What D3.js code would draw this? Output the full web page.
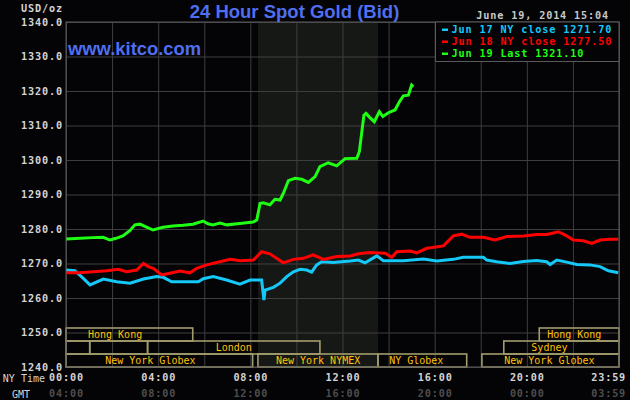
<!DOCTYPE html>
<html>
<head>
<meta charset="utf-8">
<script src="https://cdn.jsdelivr.net/npm/d3@7"></script>
<style>
body { margin: 0; background: #000; }
svg { display: block; }
</style>
</head>
<body>
<div id="chart"></div>
<script>
// Jun 19 (green) - last trades, hours are NY time
var jun19Hours = [0, 0.61, 1.17, 1.61, 1.91, 2.17, 2.47, 2.78, 2.99, 3.21, 3.47, 3.78, 4.21, 4.64, 5.08, 5.51,
    5.95, 6.16, 6.38, 6.68, 6.99, 7.55, 8.12, 8.28, 8.42, 8.56, 8.85, 9.07, 9.29, 9.43, 9.65, 9.94, 10.23,
    10.52, 10.81, 11.02, 11.38, 11.75, 12.11, 12.62, 12.73, 12.83, 12.93, 13.02, 13.19, 13.38, 13.60, 13.75,
    13.99, 14.28, 14.47, 14.64, 14.86, 15.00, 15.07];
var jun19Values = [1277.1, 1277.3, 1277.5, 1277.6, 1276.8, 1277.3, 1278.0, 1279.6, 1281.2, 1281.4, 1280.6,
    1279.7, 1280.5, 1280.9, 1281.1, 1281.4, 1282.3, 1281.5, 1281.2, 1281.7, 1281.2, 1281.6, 1282.0, 1282.6,
    1287.4, 1287.6, 1287.0, 1288.6, 1288.4, 1290.3, 1294.0, 1294.7, 1294.4, 1293.5, 1295.2, 1298.1, 1299.2,
    1298.3, 1300.4, 1300.5, 1302.4, 1307.7, 1313.0, 1313.5, 1312.3, 1311.1, 1314.0, 1312.6, 1313.7, 1314.5,
    1316.9, 1318.6, 1318.8, 1321.7, 1321.2];

// Jun 17 (blue)
var jun17Hours = [0, 0.39, 0.75, 1.04, 1.62, 2.20, 2.78, 3.36, 3.94, 4.22, 4.59, 5.24, 5.74, 5.96, 6.39, 6.97,
    7.55, 7.99, 8.49, 8.59, 8.64, 9.00, 9.29, 9.58, 9.87, 10.16, 10.45, 10.66, 10.88, 11.10, 11.60, 12.33,
    12.69, 12.98, 13.49, 13.77, 14.64, 15.51, 16.09, 16.81, 17.24, 18.11, 18.26, 18.69, 19.27, 19.85, 20.43,
    20.86, 21.01, 21.30, 21.73, 22.17, 22.74, 23.18, 23.54, 23.97];
var jun17Values = [1268.1, 1267.9, 1265.7, 1263.8, 1265.5, 1264.7, 1264.3, 1265.5, 1266.2, 1266.0, 1264.7,
    1264.7, 1264.7, 1265.6, 1266.2, 1265.2, 1264.0, 1265.2, 1265.2, 1259.4, 1262.3, 1263.1, 1264.3, 1266.2,
    1267.6, 1268.3, 1268.1, 1267.5, 1269.6, 1270.5, 1270.3, 1270.7, 1271.0, 1270.2, 1272.2, 1270.8, 1270.8,
    1271.3, 1270.7, 1271.2, 1271.8, 1271.8, 1271.0, 1270.5, 1270.0, 1270.6, 1270.9, 1270.5, 1269.7, 1271.0,
    1270.4, 1269.7, 1269.6, 1269.1, 1267.9, 1267.3];

// Jun 18 (red)
var jun18Hours = [0, 0.61, 1.18, 1.77, 2.27, 2.63, 3.07, 3.36, 3.57, 3.79, 4.15, 4.51, 4.95, 5.38, 5.67, 6.11,
    6.68, 7.12, 7.55, 8.13, 8.49, 8.85, 9.14, 9.43, 9.87, 10.30, 10.73, 11.17, 11.75, 12.33, 12.69, 13.19,
    13.85, 14.14, 14.35, 14.93, 15.22, 15.66, 16.38, 16.81, 17.17, 17.53, 18.11, 18.62, 19.13, 19.85, 20.43,
    20.86, 21.37, 21.73, 22.02, 22.45, 22.82, 23.18, 23.61, 23.97];
var jun18Values = [1267.3, 1267.3, 1267.6, 1267.9, 1268.3, 1267.6, 1268.1, 1270.0, 1269.1, 1268.6, 1266.7,
    1267.2, 1267.8, 1267.3, 1268.6, 1269.6, 1270.5, 1271.2, 1270.8, 1271.0, 1273.4, 1272.8, 1271.5, 1270.2,
    1271.2, 1271.5, 1272.5, 1271.2, 1272.0, 1272.2, 1272.8, 1273.2, 1273.0, 1271.8, 1273.4, 1273.6, 1273.1,
    1274.4, 1275.1, 1278.0, 1278.5, 1277.6, 1277.6, 1276.8, 1277.8, 1278.0, 1278.4, 1278.4, 1279.2, 1278.0,
    1276.8, 1276.6, 1275.8, 1276.8, 1277.0, 1277.0];

var legendLabels = ["Jun 17 NY close 1271.70", "Jun 18 NY close 1277.50", "Jun 19 Last 1321.10"];
var seriesColors = ["#14c8f8", "#ff0000", "#1eff14"];

var yTicks = [1240, 1250, 1260, 1270, 1280, 1290, 1300, 1310, 1320, 1330, 1340];
var xTickHours = [0, 4, 8, 12, 16, 20, 23.983];
var nyTimeLabels = ["00:00", "04:00", "08:00", "12:00", "16:00", "20:00", "23:59"];
var gmtLabels = ["04:00", "08:00", "12:00", "16:00", "20:00", "00:00", "03:59"];

// market sessions: name, row, open hour, close hour, label hour
var sessions = [
    ["Hong Kong", 0, -1.25, 5.5, 2.13],
    ["Hong Kong", 0, 20.54, 24, 22.06],
    ["", 1, -1, 1.03, -1],
    ["", 1, 1.03, 3.54, -1],
    ["London", 1, 3.54, 11.02, 7.28],
    ["Sydney", 1, 19.0, 24, 20.98],
    ["New York Globex", 2, -0.8, 8.1, 3.66],
    ["New York NYMEX", 2, 8.33, 13.54, 10.94],
    ["NY Globex", 2, 13.54, 17.39, 15.2],
    ["New York Globex", 2, 18.05, 24, 20.98]
];

// SVG drawing area
var width = 630;
var height = 400;
var margin = {top: 22, right: 11, bottom: 33, left: 66};

var svg = d3.select("#chart").append("svg")
    .attr("width", width)
    .attr("height", height);

svg.append("rect")
    .attr("width", width)
    .attr("height", height)
    .attr("fill", "#040306");

//Scales
var xScale = d3.scaleLinear()
    .domain([0, 24])
    .range([margin.left, width - margin.right]);
var yScale = d3.scaleLinear()
    .domain([1240, 1340])
    .range([height - margin.bottom, margin.top]);

var mono = "'DejaVu Sans Mono', monospace";

// small pixel-ish mono text used all over the chart
function monoText(sel, bold) {
    sel.style("font-family", mono)
        .style("font-size", "10.2px")
        .style("letter-spacing", "0.85px")
        .style("font-weight", bold ? "bold" : "normal");
}

// pit session shading (NYMEX hours)
var nymex = sessions[7];
svg.append("rect")
    .attr("x", xScale(nymex[2]))
    .attr("y", margin.top)
    .attr("width", xScale(nymex[3]) - xScale(nymex[2]))
    .attr("height", yScale(1240) - yScale(1340))
    .attr("fill", "#161816");

// gridlines
svg.append("g")
    .attr("transform", "translate(0," + margin.top + ")")
    .call(d3.axisTop(xScale).tickValues(d3.range(0, 25, 2)).tickSize(-(yScale(1240) - yScale(1340))).tickFormat(""))
    .call(function(g) {
        g.select(".domain").remove();
        g.selectAll("line").attr("stroke", "#3e3e3e");
    });
svg.append("g")
    .attr("transform", "translate(" + margin.left + ",0)")
    .call(d3.axisLeft(yScale).tickValues(yTicks).tickSize(-(xScale(24) - xScale(0))).tickFormat(""))
    .call(function(g) {
        g.select(".domain").remove();
        g.selectAll("line").attr("stroke", "#3e3e3e");
    });

// market session boxes
var rowH = 13;
var rowTop = yScale(1240) - 3 * rowH;

var sessG = svg.append("g");
sessions.forEach(function(s) {
    var x0 = xScale(Math.max(0, s[2]));
    var x1 = xScale(Math.min(24, s[3]));
    var yTop = rowTop + s[1] * rowH;
    sessG.append("rect")
        .attr("x", x0)
        .attr("y", yTop)
        .attr("width", x1 - x0)
        .attr("height", rowH)
        .attr("fill", "none")
        .attr("stroke", "#a29d6c")
        .attr("stroke-width", 1.6);
    if (s[0] !== "") {
        sessG.append("text")
            .attr("x", xScale(s[4]))
            .attr("y", yTop + rowH / 2)
            .attr("dy", "0.36em")
            .attr("text-anchor", "middle")
            .style("font-family", mono)
            .style("font-size", "10px")
            .attr("fill", "#ffc10a")
            .text(s[0]);
    }
});

// price lines
var line = d3.line()
    .x(function(d) { return xScale(d[0]); })
    .y(function(d) { return yScale(d[1]); });

var seriesData = [
    d3.zip(jun17Hours, jun17Values),
    d3.zip(jun18Hours, jun18Values),
    d3.zip(jun19Hours, jun19Values)
];

svg.selectAll("path.price")
    .data(seriesData)
    .enter()
    .append("path")
    .attr("class", "price")
    .attr("d", line)
    .attr("fill", "none")
    .attr("stroke", function(d, i) { return seriesColors[i]; })
    .attr("stroke-width", 3);

// plot border
svg.append("rect")
    .attr("x", xScale(0))
    .attr("y", yScale(1340))
    .attr("width", xScale(24) - xScale(0))
    .attr("height", yScale(1240) - yScale(1340))
    .attr("fill", "none")
    .attr("stroke", "#5a5a5a");

// y axis labels
var gy = svg.append("g")
    .attr("transform", "translate(" + margin.left + ",0)")
    .call(d3.axisLeft(yScale).tickValues(yTicks).tickSize(0).tickPadding(3).tickFormat(d3.format(".1f")));
gy.select(".domain").remove();
gy.selectAll("text")
    .call(monoText, true)
    .attr("fill", "#d4d4d4");

svg.append("text")
    .attr("x", margin.left - 3)
    .attr("y", 8)
    .attr("dy", "0.36em")
    .attr("text-anchor", "end")
    .call(monoText, true)
    .attr("fill", "#d4d4d4")
    .text("USD/oz");

// x axis labels (NY time and GMT)
function styleTimeAxis(g, color) {
    g.select(".domain").remove();
    g.selectAll("text")
        .call(monoText, true)
        .attr("fill", color);
    // last label is pushed inside the window
    g.selectAll(".tick:last-of-type text")
        .attr("text-anchor", "end")
        .attr("dx", 7);
}

var gx = svg.append("g")
    .attr("transform", "translate(0," + (yScale(1240) + 7) + ")")
    .call(d3.axisBottom(xScale).tickValues(xTickHours).tickSize(0).tickPadding(0)
        .tickFormat(function(d, i) { return nyTimeLabels[i]; }));
styleTimeAxis(gx, "#d4d4d4");

var gg = svg.append("g")
    .attr("transform", "translate(0," + (yScale(1240) + 23) + ")")
    .call(d3.axisBottom(xScale).tickValues(xTickHours).tickSize(0).tickPadding(0)
        .tickFormat(function(d, i) { return gmtLabels[i]; }));
styleTimeAxis(gg, "#4e4e4e");

svg.append("text")
    .attr("x", 45)
    .attr("y", 381.5)
    .attr("text-anchor", "end")
    .style("font-family", mono)
    .style("font-size", "10px")
    .attr("fill", "#d4d4d4")
    .text("NY Time");
svg.append("text")
    .attr("x", 21)
    .attr("y", 397.5)
    .attr("text-anchor", "middle")
    .style("font-family", mono)
    .style("font-size", "10px")
    .attr("fill", "#d4d4d4")
    .text("GMT");

// title and site
svg.append("text")
    .attr("x", 294.5)
    .attr("y", 17.5)
    .attr("text-anchor", "middle")
    .style("font-family", "'Liberation Sans', Arial, sans-serif")
    .style("font-size", "18.5px")
    .style("font-weight", "bold")
    .attr("fill", "#4f6ff0")
    .text("24 Hour Spot Gold (Bid)");

svg.append("text")
    .attr("x", 68)
    .attr("y", 55)
    .style("font-family", "'Liberation Sans', Arial, sans-serif")
    .style("font-size", "18.4px")
    .style("font-weight", "bold")
    .attr("fill", "#4f6ff0")
    .text("www.kitco.com");

svg.append("text")
    .attr("x", 609)
    .attr("y", 15)
    .attr("dy", "0.36em")
    .attr("text-anchor", "end")
    .call(monoText, true)
    .attr("fill", "#c8c8c8")
    .text("June 19, 2014 15:04");

// legend
var legend = svg.append("g");
legend.append("rect")
    .attr("x", 435.5)
    .attr("y", margin.top)
    .attr("width", xScale(24) - 435.5)
    .attr("height", 39.5)
    .attr("fill", "#040306")
    .attr("stroke", "#5a5a5a");

legendLabels.forEach(function(lbl, i) {
    var cy = 29.5 + i * 12;
    legend.append("rect")
        .attr("x", 442)
        .attr("y", cy - 1)
        .attr("width", 6)
        .attr("height", 2.5)
        .attr("fill", seriesColors[i]);
    legend.append("text")
        .attr("x", 451.5)
        .attr("y", cy)
        .attr("dy", "0.36em")
        .call(monoText, true)
        .attr("fill", seriesColors[i])
        .text(lbl);
});
</script>
</body>
</html>
